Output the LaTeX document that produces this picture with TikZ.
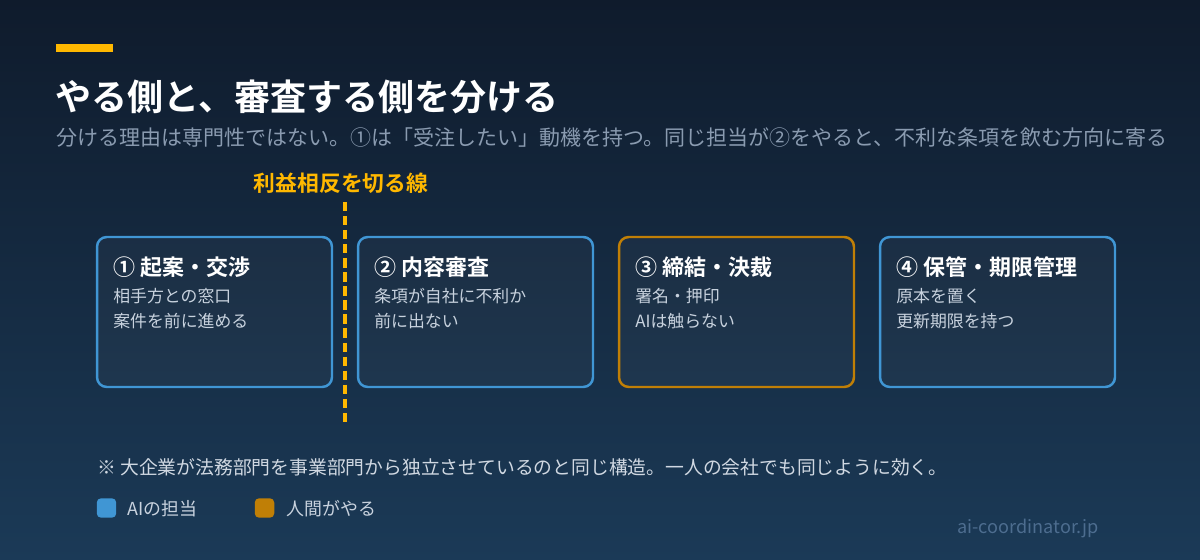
\documentclass[tikz,border=0pt]{standalone}
\usepackage{fontspec}
\setmainfont{Noto Sans CJK JP}[BoldFont={Noto Sans CJK JP Bold}]
\usepackage{xcolor}
\usetikzlibrary{positioning,calc}

\definecolor{bgtop}{HTML}{0F1B2C}
\definecolor{bgbot}{HTML}{1B3A57}
\definecolor{amber}{HTML}{FFB800}
\definecolor{aiblue}{HTML}{4096D4}
\definecolor{humanorange}{HTML}{C07F06}
\definecolor{subgray}{HTML}{8A9BB0}
\definecolor{bodygray}{HTML}{C8D2DE}
\definecolor{notegray}{HTML}{D0D8E2}
\definecolor{urlblue}{HTML}{4D6D8F}

\tikzset{
  stagebox/.style={draw, line width=1.4pt, rounded corners=5.5pt, fill=white,
    fill opacity=0.03, minimum width=4.7cm, minimum height=3cm, inner sep=0},
  headtext/.style={anchor=west, inner sep=0, text=white,
    font=\bfseries\fontsize{20.5}{24}\selectfont},
  subtext/.style={anchor=west, inner sep=0, text=subgray,
    font=\fontsize{11.95}{14}\selectfont},
  boxhead/.style={anchor=west, inner sep=0, text=white,
    font=\bfseries\fontsize{12.5}{15}\selectfont},
  boxbody/.style={anchor=west, inner sep=0, text=bodygray,
    font=\fontsize{9.6}{12}\selectfont},
  notetext/.style={anchor=west, inner sep=0, text=notegray,
    font=\fontsize{10.7}{13}\selectfont},
  legtext/.style={anchor=west, inner sep=0, text=bodygray,
    font=\fontsize{10.2}{12}\selectfont},
  legkey/.style={rounded corners=2.5pt, minimum size=0.39cm, inner sep=0},
  cutline/.style={amber, line width=2pt, dash pattern=on 5.3pt off 2.7pt}
}

\begin{document}
\begin{tikzpicture}[x=0.02cm, y=-0.02cm]

% Background
\shade[top color=bgtop, bottom color=bgbot] (0,0) rectangle (1200,560);
\useasboundingbox (0,0) rectangle (1200,560);

% Heading
\fill[amber] (56,44) rectangle (113,52);
\node[headtext] (head) at (55,97) {やる側と、審査する側を分ける};
\node[subtext] (sub) at (56,138) {分ける理由は専門性ではない。①は「受注したい」動機を持つ。同じ担当が②をやると、不利な条項を飲む方向に寄る};

% Stages
\node[stagebox, draw=aiblue] (s1) at (214.5,312) {};
\node[stagebox, draw=aiblue] (s2) at (475.5,312) {};
\node[stagebox, draw=humanorange] (s3) at (736.5,312) {};
\node[stagebox, draw=aiblue] (s4) at (997.5,312) {};

\node[boxhead] (h1) at (113,267) {① 起案・交渉};
\node[boxbody] (b1a) at (113,296) {相手方との窓口};
\node[boxbody] (b1b) at (113,321) {案件を前に進める};

\node[boxhead] (h2) at (374,267) {② 内容審査};
\node[boxbody] (b2a) at (374,296) {条項が自社に不利か};
\node[boxbody] (b2b) at (374,321) {前に出ない};

\node[boxhead] (h3) at (635,267) {③ 締結・決裁};
\node[boxbody] (b3a) at (635,296) {署名・押印};
\node[boxbody] (b3b) at (635,321) {AIは触らない};

\node[boxhead] (h4) at (896,267) {④ 保管・期限管理};
\node[boxbody] (b4a) at (896,296) {原本を置く};
\node[boxbody] (b4b) at (896,321) {更新期限を持つ};

% Conflict-of-interest line
\node[text=amber, inner sep=0, font=\bfseries\fontsize{12.4}{15}\selectfont] (cutlabel) at (341,183) {利益相反を切る線};
\coordinate (cuttop) at (345,202);
\coordinate (cutbot) at (345,422);
\draw[cutline] (cuttop) -- (cutbot);

% Note and legend
\node[notetext] (note) at (97,467) {※ 大企業が法務部門を事業部門から独立させているのと同じ構造。一人の会社でも同じように効く。};

\node[legkey, fill=aiblue] (keyai) at (106.5,508) {};
\node[legtext] (legai) at (127,509) {AIの担当};
\node[legkey, fill=humanorange] (keyhuman) at (264.5,508) {};
\node[legtext] (leghuman) at (286,509) {人間がやる};

\node[anchor=west, inner sep=0, text=urlblue, font=\fontsize{10.3}{12}\selectfont] (url) at (957,528) {ai-coordinator.jp};

\end{tikzpicture}
\end{document}
